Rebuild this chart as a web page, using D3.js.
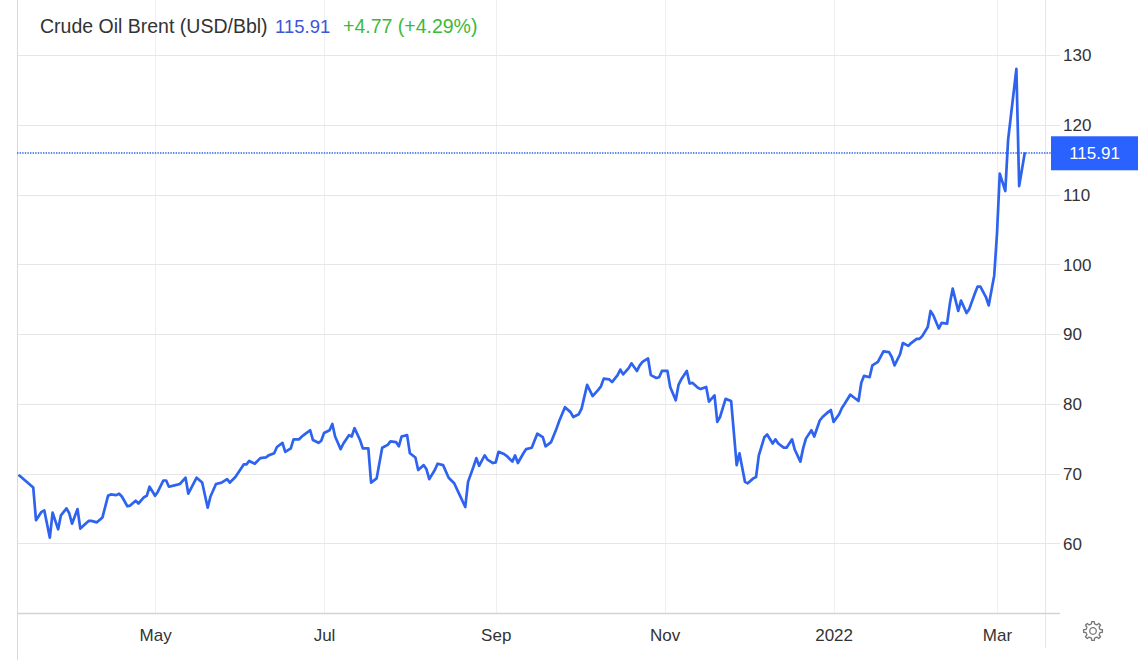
<!DOCTYPE html>
<html>
<head>
<meta charset="utf-8">
<script src="https://cdn.jsdelivr.net/npm/d3@7"></script>
<style>
  html, body { margin: 0; padding: 0; background: #fff; }
  svg { display: block; font-family: "Liberation Sans", Arial, sans-serif; }
</style>
</head>
<body>
<svg id="chart" width="1142" height="660"></svg>
<script>
const titleText = "Crude Oil Brent (USD/Bbl)";
const lastPrice = "115.91";
const changeText = "+4.77 (+4.29%)";

const dates = [
  "2021-03-13","2021-03-18","2021-03-19","2021-03-21","2021-03-22","2021-03-24","2021-03-25","2021-03-27","2021-03-28","2021-03-30","2021-03-31",
  "2021-04-01","2021-04-03","2021-04-04","2021-04-07","2021-04-08","2021-04-10","2021-04-12","2021-04-14","2021-04-15","2021-04-17","2021-04-18","2021-04-19","2021-04-21","2021-04-22","2021-04-24","2021-04-25","2021-04-27","2021-04-28","2021-04-29",
  "2021-05-01","2021-05-02","2021-05-04","2021-05-05","2021-05-06","2021-05-08","2021-05-10","2021-05-12","2021-05-13","2021-05-16","2021-05-18","2021-05-20","2021-05-21","2021-05-23","2021-05-25","2021-05-27","2021-05-28","2021-05-30",
  "2021-06-02","2021-06-03","2021-06-04","2021-06-06","2021-06-08","2021-06-10","2021-06-11","2021-06-13","2021-06-14","2021-06-16","2021-06-17","2021-06-19","2021-06-20","2021-06-22","2021-06-23","2021-06-24","2021-06-26","2021-06-27","2021-06-29","2021-06-30",
  "2021-07-01","2021-07-03","2021-07-04","2021-07-05","2021-07-07","2021-07-08","2021-07-10","2021-07-11","2021-07-12","2021-07-14","2021-07-15","2021-07-17","2021-07-18","2021-07-20","2021-07-22","2021-07-24","2021-07-25","2021-07-27","2021-07-28","2021-07-29","2021-07-31",
  "2021-08-01","2021-08-03","2021-08-04","2021-08-06","2021-08-07","2021-08-08","2021-08-10","2021-08-11","2021-08-13","2021-08-15","2021-08-17","2021-08-19","2021-08-21","2021-08-22","2021-08-24","2021-08-25","2021-08-26","2021-08-28","2021-08-29","2021-08-31",
  "2021-09-01","2021-09-02","2021-09-04","2021-09-05","2021-09-07","2021-09-08","2021-09-09","2021-09-11","2021-09-12","2021-09-14","2021-09-16","2021-09-18","2021-09-19","2021-09-21","2021-09-23","2021-09-24","2021-09-26","2021-09-28","2021-09-29",
  "2021-10-01","2021-10-02","2021-10-04","2021-10-06","2021-10-08","2021-10-09","2021-10-10","2021-10-12","2021-10-13","2021-10-15","2021-10-16","2021-10-17","2021-10-19","2021-10-20","2021-10-22","2021-10-23","2021-10-24","2021-10-26","2021-10-27","2021-10-29","2021-10-30","2021-10-31",
  "2021-11-02","2021-11-03","2021-11-05","2021-11-06","2021-11-07","2021-11-09","2021-11-10","2021-11-11","2021-11-13","2021-11-14","2021-11-16","2021-11-17","2021-11-19","2021-11-20","2021-11-21","2021-11-23","2021-11-25","2021-11-27","2021-11-28","2021-11-30",
  "2021-12-01","2021-12-03","2021-12-04","2021-12-05","2021-12-07","2021-12-08","2021-12-10","2021-12-11","2021-12-12","2021-12-14","2021-12-15","2021-12-17","2021-12-18","2021-12-20","2021-12-21","2021-12-22","2021-12-24","2021-12-25","2021-12-27","2021-12-28","2021-12-30","2021-12-31",
  "2022-01-01","2022-01-03","2022-01-04","2022-01-05","2022-01-07","2022-01-08","2022-01-10","2022-01-11","2022-01-12","2022-01-14","2022-01-15","2022-01-17","2022-01-19","2022-01-21","2022-01-22","2022-01-23","2022-01-25","2022-01-26","2022-01-28","2022-01-29","2022-01-31",
  "2022-02-01","2022-02-02","2022-02-04","2022-02-05","2022-02-06","2022-02-08","2022-02-09","2022-02-11","2022-02-12","2022-02-13","2022-02-15","2022-02-16","2022-02-18","2022-02-19","2022-02-21","2022-02-22","2022-02-23","2022-02-25","2022-02-26","2022-02-28",
  "2022-03-01","2022-03-02","2022-03-04","2022-03-05","2022-03-08","2022-03-09","2022-03-11"
];

const prices = [
  69.7,68.0,63.3,64.5,64.7,60.8,64.4,62.0,64.0,65.0,64.3,
  62.8,64.9,62.1,63.2,63.2,63.0,63.7,66.8,67.0,66.9,67.1,66.7,65.3,65.4,66.1,65.7,66.6,66.8,68.1,
  66.8,67.4,69.0,69.0,68.1,68.3,68.5,69.4,67.1,69.4,68.7,65.1,66.7,68.5,68.7,69.2,68.7,69.5,
  71.3,71.3,71.8,71.4,72.2,72.3,72.6,72.9,73.8,74.4,73.1,73.6,74.9,74.9,75.3,75.6,76.2,74.8,74.4,74.7,
  75.8,76.2,77.1,75.3,73.5,74.3,75.5,75.3,76.5,74.8,73.6,73.6,68.7,69.3,73.7,74.1,74.6,74.5,73.9,75.3,75.5,
  72.9,72.3,70.5,71.2,70.6,69.2,70.5,71.4,71.2,69.4,68.6,66.9,65.2,68.8,71.0,72.2,71.1,72.6,72.0,71.5,
  71.6,73.1,72.8,72.5,71.7,72.6,71.5,72.9,73.5,73.7,75.7,75.2,73.9,74.5,76.5,77.6,79.5,78.8,78.1,
  78.5,79.3,82.7,81.1,82.0,82.5,83.6,83.5,83.1,84.1,84.9,84.2,85.1,85.8,84.7,85.5,86.0,86.5,84.1,83.7,83.8,84.7,
  84.7,82.4,80.5,82.7,83.5,84.7,82.9,83.0,82.3,82.1,82.4,80.3,81.2,77.4,78.1,80.7,80.4,71.2,72.9,68.8,
  68.6,69.3,69.5,72.6,75.2,75.6,74.3,74.9,74.3,73.7,73.7,74.9,73.4,71.7,73.6,75.0,76.2,75.3,77.6,78.1,78.8,79.1,
  77.4,78.5,79.4,80.0,81.3,81.0,80.4,83.0,84.0,83.8,85.5,86.0,87.5,87.4,86.7,85.5,87.1,88.7,88.3,88.7,89.3,
  89.3,89.7,91.0,93.3,92.7,90.8,91.6,91.5,94.4,96.5,93.3,94.8,93.0,93.6,95.8,96.8,96.8,95.3,94.1,98.4,
  104.4,113.0,110.5,117.8,128.0,111.2,115.91
];

const xTickDates = ["2021-05-01","2021-07-01","2021-09-01","2021-11-01","2022-01-01","2022-03-01"];
const xTickLabels = ["May","Jul","Sep","Nov","2022","Mar"];
const yTickValues = [60,70,80,90,100,110,120,130];

const parse = d3.timeParse("%Y-%m-%d");
const data = dates.map((d, i) => ({ date: parse(d), value: prices[i] }));

const svg = d3.select("#chart");
const W = 1142, H = 660;
const left = 17, plotRight = 1045, axisRight = 1060, bottom = 613;

const x = d3.scaleTime()
  .domain([new Date(2021, 2, 12, 12), new Date(2022, 2, 18, 8)])
  .range([18, plotRight]);
const y = d3.scaleLinear().domain([50, 130]).range([bottom, 55]);

// vertical grid
const xTicks = xTickDates.map(parse);
svg.append("g").selectAll("line").data(xTicks).join("line")
  .attr("x1", d => Math.round(x(d)) + 0.5).attr("x2", d => Math.round(x(d)) + 0.5)
  .attr("y1", 0).attr("y2", bottom)
  .attr("stroke", "#eeeff2").attr("stroke-width", 1);

// horizontal grid
svg.append("g").selectAll("line").data(yTickValues).join("line")
  .attr("x1", left).attr("x2", axisRight)
  .attr("y1", d => Math.round(y(d)) + 0.5).attr("y2", d => Math.round(y(d)) + 0.5)
  .attr("stroke", "#e6e6e6").attr("stroke-width", 1);

// left border
svg.append("line").attr("x1", left + 0.5).attr("x2", left + 0.5).attr("y1", 0).attr("y2", H)
  .attr("stroke", "#d9d9d9");
// right separator
svg.append("line").attr("x1", plotRight + 0.5).attr("x2", plotRight + 0.5).attr("y1", 0).attr("y2", 648)
  .attr("stroke", "#e6e6e6");
// bottom axis line
svg.append("line").attr("x1", left).attr("x2", axisRight).attr("y1", bottom + 0.5).attr("y2", bottom + 0.5)
  .attr("stroke", "#d0d3da").attr("stroke-width", 1.5);

// x axis labels
const xAxis = d3.axisBottom(x).tickValues(xTicks).tickSize(0).tickPadding(0)
  .tickFormat((d, i) => xTickLabels[i]);
const gx = svg.append("g").attr("transform", `translate(0,${bottom})`).call(xAxis);
gx.select(".domain").remove();
gx.selectAll("text").attr("y", 22).attr("dy", "0.35em")
  .attr("font-size", 17).attr("font-family", "Liberation Sans, Arial, sans-serif").attr("fill", "#333");

// y axis labels
const yAxis = d3.axisRight(y).tickValues(yTickValues).tickSize(0).tickPadding(0).tickFormat(d3.format("d"));
const gy = svg.append("g").attr("transform", `translate(1063,0)`).call(yAxis);
gy.select(".domain").remove();
gy.selectAll("text").attr("x", 0).attr("dy", "0.35em").attr("text-anchor", "start")
  .attr("font-size", 17).attr("font-family", "Liberation Sans, Arial, sans-serif").attr("fill", "#333");

// last price dotted line
const lastVal = prices[prices.length - 1];
svg.append("line").attr("x1", left).attr("x2", 1051)
  .attr("y1", Math.round(y(lastVal))).attr("y2", Math.round(y(lastVal)))
  .attr("stroke", "#2f62f0").attr("stroke-width", 1.6).attr("stroke-dasharray", "1.4,1.2");

// line
const line = d3.line().x(d => x(d.date)).y(d => y(d.value));
svg.append("path").datum(data)
  .attr("d", line)
  .attr("fill", "none")
  .attr("stroke", "#2d63ee")
  .attr("stroke-width", 2.7)
  .attr("stroke-linejoin", "round")
  .attr("stroke-linecap", "round");

// price label box
const ly = y(lastVal);
svg.append("rect").attr("x", 1051).attr("y", ly - 17).attr("width", 87).attr("height", 34)
  .attr("fill", "#2962ff");
svg.append("text").attr("x", 1094.5).attr("y", ly).attr("dy", "0.36em")
  .attr("text-anchor", "middle").attr("font-size", 17).attr("fill", "#fff")
  .text(lastPrice);

// title
const title = svg.append("text").attr("y", 26).attr("dy", "0.35em").attr("font-size", 19.5);
title.append("tspan").attr("x", 40).attr("fill", "#333").text(titleText);
title.append("tspan").attr("x", 275).attr("fill", "#3d55d8").attr("font-size", 18.5).text(lastPrice);
title.append("tspan").attr("x", 343).attr("fill", "#3cb93c").text(changeText);

// gear icon
const gear = svg.append("g").attr("transform", "translate(1093,631)");
const teeth = 8, rOut = 9.5, rIn = 7.2;
const pts = [];
for (let i = 0; i < teeth; i++) {
  const a0 = (i / teeth) * 2 * Math.PI;
  const step = 2 * Math.PI / teeth;
  pts.push([a0 - step * 0.28, rIn], [a0 - step * 0.17, rOut], [a0 + step * 0.17, rOut], [a0 + step * 0.28, rIn]);
}
const gearPath = d3.lineRadial().angle(d => d[0]).radius(d => d[1]).curve(d3.curveLinearClosed);
gear.append("path").attr("d", gearPath(pts)).attr("fill", "none").attr("stroke", "#777").attr("stroke-width", 1.3)
  .attr("stroke-linejoin", "round");
gear.append("circle").attr("r", 3.3).attr("fill", "none").attr("stroke", "#777").attr("stroke-width", 1.3);
</script>
</body>
</html>
